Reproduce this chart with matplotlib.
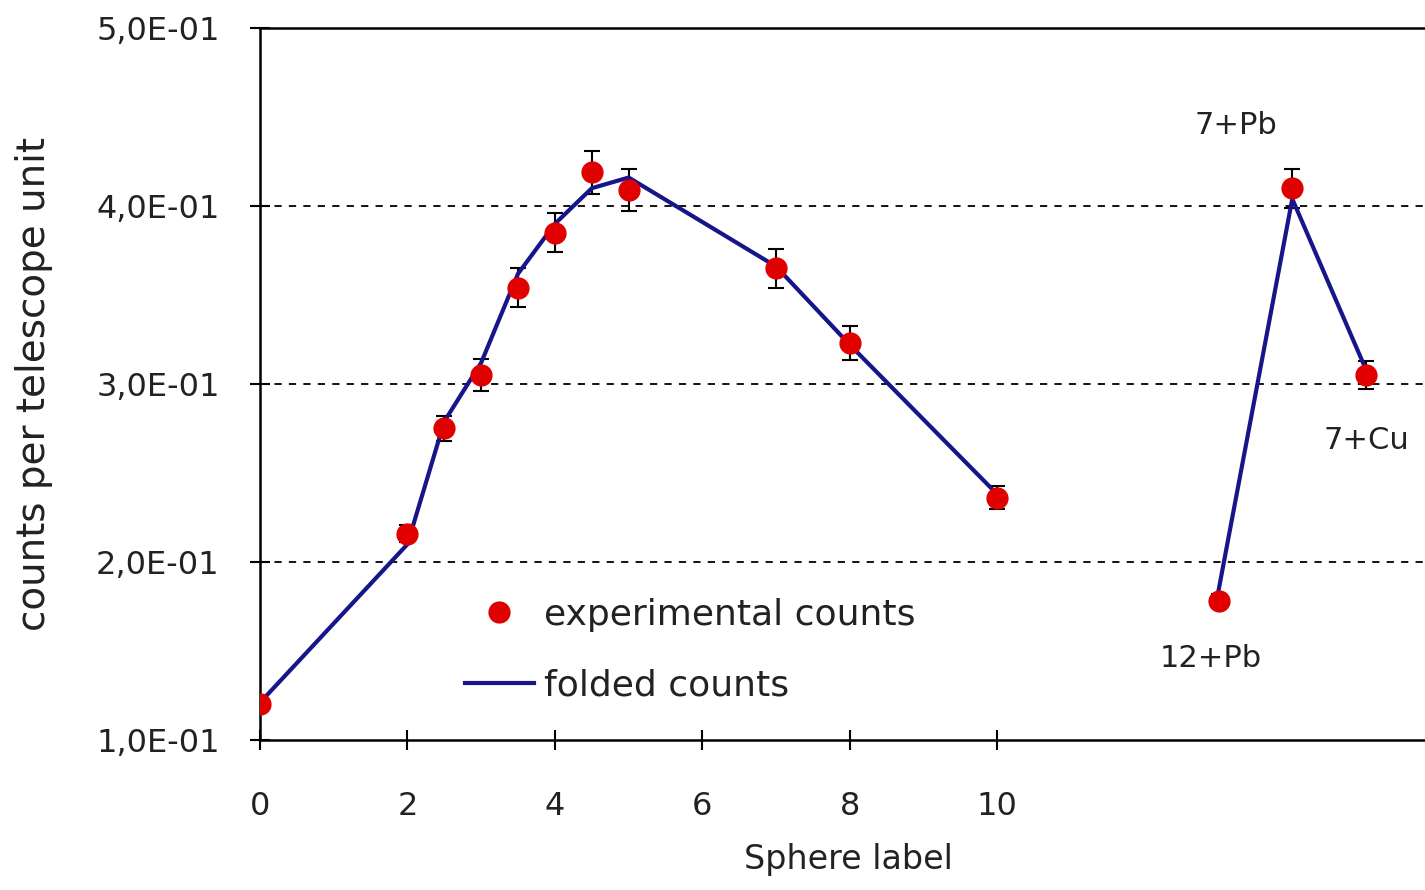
import matplotlib.pyplot as plt
from matplotlib.ticker import FuncFormatter

# experimental counts (red points with error bars)
exp_x = [0, 2, 2.5, 3, 3.5, 4, 4.5, 5, 7, 8, 10, 13, 14, 15]
exp_y = [0.120, 0.216, 0.275, 0.305, 0.354, 0.385, 0.419, 0.409,
         0.365, 0.323, 0.236, 0.178, 0.410, 0.305]
exp_err = [0.003, 0.005, 0.007, 0.009, 0.011, 0.011, 0.012, 0.012,
           0.011, 0.0095, 0.0065, 0.004, 0.011, 0.008]

# folded counts (blue line), two separate segments
fold_x1 = [0, 2, 2.5, 3, 3.5, 4, 4.5, 5, 7, 8, 10]
fold_y1 = [0.121, 0.210, 0.279, 0.312, 0.362, 0.390, 0.410, 0.416,
           0.366, 0.322, 0.238]
fold_x2 = [13, 14, 15]
fold_y2 = [0.184, 0.404, 0.308]

x_ticks = [0, 2, 4, 6, 8, 10]
y_ticks = [0.1, 0.2, 0.3, 0.4, 0.5]

annotations = [("7+Pb", 13.23, 0.445), ("7+Cu", 15.0, 0.2685), ("12+Pb", 12.9, 0.146)]

txt = '#222222'
red = '#e00000'
blue = '#16168a'

fig = plt.figure(figsize=(14.25, 8.9), dpi=100)
ax = fig.add_axes([260 / 1425, 150 / 890, 1165 / 1425, 712 / 890])

ax.errorbar(exp_x, exp_y, yerr=exp_err, fmt='none', ecolor='black',
            elinewidth=1.5, capsize=6, capthick=1.5, zorder=2)
ax.plot(fold_x1, fold_y1, color=blue, lw=3, zorder=3, label='folded counts')
ax.plot(fold_x2, fold_y2, color=blue, lw=3, zorder=3)
ax.plot(exp_x, exp_y, 'o', color=red, ms=15, zorder=4, label='experimental counts')

for label, lx, ly in annotations:
    ax.text(lx, ly, label, ha='center', va='center', fontsize=22, color=txt)

ax.set_xlim(0, 15.8)
ax.set_ylim(0.1, 0.5)
ax.set_xticks(x_ticks)
ax.set_yticks(y_ticks)
ax.yaxis.set_major_formatter(FuncFormatter(lambda v, p: f"{v:.1E}".replace('.', ',')))

for y in [0.2, 0.3, 0.4]:
    ax.axhline(y, color='black', ls=(0, (4, 4)), lw=1.3, zorder=1)

ax.spines['right'].set_visible(False)
for s in ['left', 'top', 'bottom']:
    ax.spines[s].set_linewidth(1.8)
    ax.spines[s].set_color('black')

ax.tick_params(axis='both', direction='inout', length=14, width=1.5,
               labelsize=23, labelcolor=txt)
ax.tick_params(axis='y', pad=22)
ax.tick_params(axis='x', pad=30)

ax.set_xlabel('Sphere label', fontsize=24, color=txt)
ax.set_ylabel('counts per telescope unit', fontsize=28, color=txt)
ax.xaxis.set_label_coords(0.505, -0.145)
ax.yaxis.set_label_coords(-0.178, 0.5)

handles, labels = ax.get_legend_handles_labels()
ax.legend(handles[::-1], labels[::-1], loc='upper left',
          bbox_to_anchor=(0.148, 0.245), frameon=False, fontsize=26,
          labelcolor=txt, handlelength=1.9, handletextpad=0.3, labelspacing=1.0)

fig.savefig('out.png', dpi=100)
